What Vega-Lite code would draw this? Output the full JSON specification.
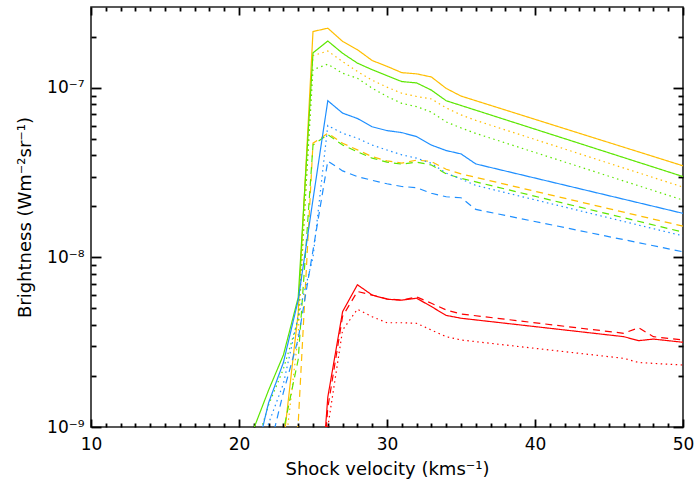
{
  "$schema": "https://vega.github.io/schema/vega-lite/v6.json",
  "width": 592,
  "height": 420,
  "autosize": {"type": "none"},
  "padding": {"left": 91, "top": 7, "right": 11, "bottom": 60},
  "config": {
    "view": {"stroke": "#222222", "strokeWidth": 1.6},
    "font": "DejaVu Sans",
    "axis": {
      "domain": false,
      "grid": false,
      "labelFont": "DejaVu Sans",
      "labelFontSize": 17,
      "labelColor": "#000000",
      "titleFont": "DejaVu Sans",
      "titleFontSize": 18,
      "titleFontWeight": "normal",
      "titleColor": "#000000",
      "labelFlush": false,
      "labelOverlap": false
    }
  },
  "data": {
    "values": [
      {"model": "A", "kind": "solid", "v": 23, "b": 8e-10},
      {"model": "A", "kind": "solid", "v": 24, "b": 4.7e-9},
      {"model": "A", "kind": "solid", "v": 25, "b": 2.15e-7},
      {"model": "A", "kind": "solid", "v": 26, "b": 2.25e-7},
      {"model": "A", "kind": "solid", "v": 27, "b": 1.88e-7},
      {"model": "A", "kind": "solid", "v": 28, "b": 1.68e-7},
      {"model": "A", "kind": "solid", "v": 29, "b": 1.45e-7},
      {"model": "A", "kind": "solid", "v": 30, "b": 1.34e-7},
      {"model": "A", "kind": "solid", "v": 31, "b": 1.23e-7},
      {"model": "A", "kind": "solid", "v": 32, "b": 1.21e-7},
      {"model": "A", "kind": "solid", "v": 33, "b": 1.16e-7},
      {"model": "A", "kind": "solid", "v": 34, "b": 9.93e-8},
      {"model": "A", "kind": "solid", "v": 35, "b": 8.95e-8},
      {"model": "A", "kind": "solid", "v": 50, "b": 3.47e-8},

      {"model": "A", "kind": "dotted", "v": 23, "b": 6e-10},
      {"model": "A", "kind": "dotted", "v": 24, "b": 3.5e-9},
      {"model": "A", "kind": "dotted", "v": 25, "b": 1.55e-7},
      {"model": "A", "kind": "dotted", "v": 26, "b": 1.65e-7},
      {"model": "A", "kind": "dotted", "v": 27, "b": 1.43e-7},
      {"model": "A", "kind": "dotted", "v": 28, "b": 1.25e-7},
      {"model": "A", "kind": "dotted", "v": 29, "b": 1.11e-7},
      {"model": "A", "kind": "dotted", "v": 30, "b": 1.01e-7},
      {"model": "A", "kind": "dotted", "v": 31, "b": 9.3e-8},
      {"model": "A", "kind": "dotted", "v": 32, "b": 8.9e-8},
      {"model": "A", "kind": "dotted", "v": 33, "b": 8.6e-8},
      {"model": "A", "kind": "dotted", "v": 34, "b": 7.62e-8},
      {"model": "A", "kind": "dotted", "v": 35, "b": 6.93e-8},
      {"model": "A", "kind": "dotted", "v": 36, "b": 6.43e-8},
      {"model": "A", "kind": "dotted", "v": 50, "b": 2.6e-8},

      {"model": "A", "kind": "dashed", "v": 23, "b": 3e-10},
      {"model": "A", "kind": "dashed", "v": 24, "b": 1.05e-9},
      {"model": "A", "kind": "dashed", "v": 25, "b": 4.72e-8},
      {"model": "A", "kind": "dashed", "v": 26, "b": 5.4e-8},
      {"model": "A", "kind": "dashed", "v": 27, "b": 4.72e-8},
      {"model": "A", "kind": "dashed", "v": 28, "b": 4.31e-8},
      {"model": "A", "kind": "dashed", "v": 29, "b": 3.93e-8},
      {"model": "A", "kind": "dashed", "v": 30, "b": 3.71e-8},
      {"model": "A", "kind": "dashed", "v": 31, "b": 3.6e-8},
      {"model": "A", "kind": "dashed", "v": 32, "b": 3.75e-8},
      {"model": "A", "kind": "dashed", "v": 33, "b": 3.68e-8},
      {"model": "A", "kind": "dashed", "v": 34, "b": 3.31e-8},
      {"model": "A", "kind": "dashed", "v": 35, "b": 3.11e-8},
      {"model": "A", "kind": "dashed", "v": 50, "b": 1.53e-8},

      {"model": "B", "kind": "solid", "v": 20, "b": 4e-10},
      {"model": "B", "kind": "solid", "v": 21, "b": 9.8e-10},
      {"model": "B", "kind": "solid", "v": 22, "b": 1.65e-9},
      {"model": "B", "kind": "solid", "v": 23, "b": 2.66e-9},
      {"model": "B", "kind": "solid", "v": 24, "b": 5.8e-9},
      {"model": "B", "kind": "solid", "v": 25, "b": 1.61e-7},
      {"model": "B", "kind": "solid", "v": 26, "b": 1.89e-7},
      {"model": "B", "kind": "solid", "v": 27, "b": 1.6e-7},
      {"model": "B", "kind": "solid", "v": 28, "b": 1.4e-7},
      {"model": "B", "kind": "solid", "v": 29, "b": 1.28e-7},
      {"model": "B", "kind": "solid", "v": 30, "b": 1.18e-7},
      {"model": "B", "kind": "solid", "v": 31, "b": 1.09e-7},
      {"model": "B", "kind": "solid", "v": 32, "b": 1.07e-7},
      {"model": "B", "kind": "solid", "v": 33, "b": 9.7e-8},
      {"model": "B", "kind": "solid", "v": 34, "b": 8.4e-8},
      {"model": "B", "kind": "solid", "v": 50, "b": 3.0e-8},

      {"model": "B", "kind": "dotted", "v": 21, "b": 7e-10},
      {"model": "B", "kind": "dotted", "v": 22, "b": 1.35e-9},
      {"model": "B", "kind": "dotted", "v": 23, "b": 2.2e-9},
      {"model": "B", "kind": "dotted", "v": 24, "b": 4.3e-9},
      {"model": "B", "kind": "dotted", "v": 25, "b": 1.28e-7},
      {"model": "B", "kind": "dotted", "v": 26, "b": 1.38e-7},
      {"model": "B", "kind": "dotted", "v": 27, "b": 1.22e-7},
      {"model": "B", "kind": "dotted", "v": 28, "b": 1.14e-7},
      {"model": "B", "kind": "dotted", "v": 29, "b": 9.96e-8},
      {"model": "B", "kind": "dotted", "v": 30, "b": 8.9e-8},
      {"model": "B", "kind": "dotted", "v": 31, "b": 8.1e-8},
      {"model": "B", "kind": "dotted", "v": 32, "b": 7.76e-8},
      {"model": "B", "kind": "dotted", "v": 33, "b": 7.2e-8},
      {"model": "B", "kind": "dotted", "v": 34, "b": 6.3e-8},
      {"model": "B", "kind": "dotted", "v": 35, "b": 5.81e-8},
      {"model": "B", "kind": "dotted", "v": 36, "b": 5.39e-8},
      {"model": "B", "kind": "dotted", "v": 50, "b": 2.18e-8},

      {"model": "B", "kind": "dashed", "v": 22, "b": 4e-10},
      {"model": "B", "kind": "dashed", "v": 23, "b": 9.5e-10},
      {"model": "B", "kind": "dashed", "v": 24, "b": 2.5e-9},
      {"model": "B", "kind": "dashed", "v": 25, "b": 4.6e-8},
      {"model": "B", "kind": "dashed", "v": 26, "b": 5.3e-8},
      {"model": "B", "kind": "dashed", "v": 27, "b": 4.6e-8},
      {"model": "B", "kind": "dashed", "v": 28, "b": 4.2e-8},
      {"model": "B", "kind": "dashed", "v": 29, "b": 3.85e-8},
      {"model": "B", "kind": "dashed", "v": 30, "b": 3.65e-8},
      {"model": "B", "kind": "dashed", "v": 31, "b": 3.55e-8},
      {"model": "B", "kind": "dashed", "v": 32, "b": 3.65e-8},
      {"model": "B", "kind": "dashed", "v": 33, "b": 3.51e-8},
      {"model": "B", "kind": "dashed", "v": 34, "b": 3.11e-8},
      {"model": "B", "kind": "dashed", "v": 35, "b": 2.93e-8},
      {"model": "B", "kind": "dashed", "v": 50, "b": 1.41e-8},

      {"model": "C", "kind": "solid", "v": 21, "b": 6e-10},
      {"model": "C", "kind": "solid", "v": 22, "b": 1.39e-9},
      {"model": "C", "kind": "solid", "v": 23, "b": 2.4e-9},
      {"model": "C", "kind": "solid", "v": 24, "b": 5.6e-9},
      {"model": "C", "kind": "solid", "v": 25, "b": 2.2e-8},
      {"model": "C", "kind": "solid", "v": 26, "b": 8.4e-8},
      {"model": "C", "kind": "solid", "v": 27, "b": 7.1e-8},
      {"model": "C", "kind": "solid", "v": 28, "b": 6.6e-8},
      {"model": "C", "kind": "solid", "v": 29, "b": 5.9e-8},
      {"model": "C", "kind": "solid", "v": 30, "b": 5.6e-8},
      {"model": "C", "kind": "solid", "v": 31, "b": 5.45e-8},
      {"model": "C", "kind": "solid", "v": 32, "b": 5.16e-8},
      {"model": "C", "kind": "solid", "v": 33, "b": 4.6e-8},
      {"model": "C", "kind": "solid", "v": 34, "b": 4.27e-8},
      {"model": "C", "kind": "solid", "v": 35, "b": 4.08e-8},
      {"model": "C", "kind": "solid", "v": 36, "b": 3.56e-8},
      {"model": "C", "kind": "solid", "v": 50, "b": 1.82e-8},

      {"model": "C", "kind": "dotted", "v": 21, "b": 5e-10},
      {"model": "C", "kind": "dotted", "v": 22, "b": 1.05e-9},
      {"model": "C", "kind": "dotted", "v": 23, "b": 1.8e-9},
      {"model": "C", "kind": "dotted", "v": 24, "b": 4.5e-9},
      {"model": "C", "kind": "dotted", "v": 25, "b": 1.0e-8},
      {"model": "C", "kind": "dotted", "v": 26, "b": 6.0e-8},
      {"model": "C", "kind": "dotted", "v": 27, "b": 5.4e-8},
      {"model": "C", "kind": "dotted", "v": 28, "b": 5.05e-8},
      {"model": "C", "kind": "dotted", "v": 29, "b": 4.6e-8},
      {"model": "C", "kind": "dotted", "v": 30, "b": 4.3e-8},
      {"model": "C", "kind": "dotted", "v": 31, "b": 4.03e-8},
      {"model": "C", "kind": "dotted", "v": 32, "b": 3.85e-8},
      {"model": "C", "kind": "dotted", "v": 33, "b": 3.59e-8},
      {"model": "C", "kind": "dotted", "v": 34, "b": 3.14e-8},
      {"model": "C", "kind": "dotted", "v": 35, "b": 2.9e-8},
      {"model": "C", "kind": "dotted", "v": 36, "b": 2.66e-8},
      {"model": "C", "kind": "dotted", "v": 50, "b": 1.34e-8},

      {"model": "C", "kind": "dashed", "v": 22, "b": 7e-10},
      {"model": "C", "kind": "dashed", "v": 23, "b": 1.6e-9},
      {"model": "C", "kind": "dashed", "v": 24, "b": 3.3e-9},
      {"model": "C", "kind": "dashed", "v": 25, "b": 1.1e-8},
      {"model": "C", "kind": "dashed", "v": 26, "b": 3.7e-8},
      {"model": "C", "kind": "dashed", "v": 27, "b": 3.24e-8},
      {"model": "C", "kind": "dashed", "v": 28, "b": 3.0e-8},
      {"model": "C", "kind": "dashed", "v": 29, "b": 2.85e-8},
      {"model": "C", "kind": "dashed", "v": 30, "b": 2.72e-8},
      {"model": "C", "kind": "dashed", "v": 31, "b": 2.62e-8},
      {"model": "C", "kind": "dashed", "v": 32, "b": 2.58e-8},
      {"model": "C", "kind": "dashed", "v": 33, "b": 2.39e-8},
      {"model": "C", "kind": "dashed", "v": 34, "b": 2.28e-8},
      {"model": "C", "kind": "dashed", "v": 35, "b": 2.25e-8},
      {"model": "C", "kind": "dashed", "v": 36, "b": 1.92e-8},
      {"model": "C", "kind": "dashed", "v": 50, "b": 1.08e-8},

      {"model": "D", "kind": "solid", "v": 25, "b": 1e-10},
      {"model": "D", "kind": "solid", "v": 26, "b": 1.5e-9},
      {"model": "D", "kind": "solid", "v": 27, "b": 4.79e-9},
      {"model": "D", "kind": "solid", "v": 28, "b": 6.9e-9},
      {"model": "D", "kind": "solid", "v": 29, "b": 6.0e-9},
      {"model": "D", "kind": "solid", "v": 30, "b": 5.67e-9},
      {"model": "D", "kind": "solid", "v": 31, "b": 5.6e-9},
      {"model": "D", "kind": "solid", "v": 32, "b": 5.75e-9},
      {"model": "D", "kind": "solid", "v": 33, "b": 5.13e-9},
      {"model": "D", "kind": "solid", "v": 34, "b": 4.55e-9},
      {"model": "D", "kind": "solid", "v": 35, "b": 4.38e-9},
      {"model": "D", "kind": "solid", "v": 46, "b": 3.41e-9},
      {"model": "D", "kind": "solid", "v": 47, "b": 3.23e-9},
      {"model": "D", "kind": "solid", "v": 48, "b": 3.3e-9},
      {"model": "D", "kind": "solid", "v": 50, "b": 3.16e-9},

      {"model": "D", "kind": "dashed", "v": 25, "b": 1e-10},
      {"model": "D", "kind": "dashed", "v": 26, "b": 1.3e-9},
      {"model": "D", "kind": "dashed", "v": 27, "b": 4.5e-9},
      {"model": "D", "kind": "dashed", "v": 28, "b": 6.3e-9},
      {"model": "D", "kind": "dashed", "v": 29, "b": 6.0e-9},
      {"model": "D", "kind": "dashed", "v": 30, "b": 5.7e-9},
      {"model": "D", "kind": "dashed", "v": 31, "b": 5.6e-9},
      {"model": "D", "kind": "dashed", "v": 32, "b": 5.85e-9},
      {"model": "D", "kind": "dashed", "v": 33, "b": 5.37e-9},
      {"model": "D", "kind": "dashed", "v": 34, "b": 4.9e-9},
      {"model": "D", "kind": "dashed", "v": 35, "b": 4.64e-9},
      {"model": "D", "kind": "dashed", "v": 46, "b": 3.57e-9},
      {"model": "D", "kind": "dashed", "v": 47, "b": 3.85e-9},
      {"model": "D", "kind": "dashed", "v": 48, "b": 3.41e-9},
      {"model": "D", "kind": "dashed", "v": 50, "b": 3.26e-9},

      {"model": "D", "kind": "dotted", "v": 25, "b": 1e-10},
      {"model": "D", "kind": "dotted", "v": 26, "b": 1.0e-9},
      {"model": "D", "kind": "dotted", "v": 27, "b": 3.73e-9},
      {"model": "D", "kind": "dotted", "v": 28, "b": 4.95e-9},
      {"model": "D", "kind": "dotted", "v": 29, "b": 4.47e-9},
      {"model": "D", "kind": "dotted", "v": 30, "b": 4.12e-9},
      {"model": "D", "kind": "dotted", "v": 31, "b": 4.12e-9},
      {"model": "D", "kind": "dotted", "v": 32, "b": 4.09e-9},
      {"model": "D", "kind": "dotted", "v": 33, "b": 3.73e-9},
      {"model": "D", "kind": "dotted", "v": 34, "b": 3.41e-9},
      {"model": "D", "kind": "dotted", "v": 35, "b": 3.26e-9},
      {"model": "D", "kind": "dotted", "v": 46, "b": 2.54e-9},
      {"model": "D", "kind": "dotted", "v": 47, "b": 2.4e-9},
      {"model": "D", "kind": "dotted", "v": 50, "b": 2.32e-9}
    ]
  },
  "layer": [
    {
      "mark": {"type": "line", "clip": true, "strokeWidth": 1.2},
      "encoding": {
        "x": {
          "field": "v", "type": "quantitative",
          "scale": {"domain": [10, 50], "nice": false, "zero": false},
          "axis": {
            "orient": "bottom",
            "title": "Shock velocity (kms⁻¹)",
            "titlePadding": 8,
            "values": [10, 20, 30, 40, 50],
            "ticks": true,
            "tickSize": 8,
            "offset": -8,
            "tickColor": "#000000",
            "tickWidth": 1.8,
            "labelPadding": 9
          }
        },
        "y": {
          "field": "b", "type": "quantitative",
          "scale": {"type": "log", "domain": [1e-9, 3e-7], "nice": false},
          "axis": {
            "orient": "left",
            "title": "Brightness (Wm⁻²sr⁻¹)",
            "titlePadding": 12,
            "values": [1e-9, 1e-8, 1e-7],
            "labelExpr": "datum.value == 1e-9 ? '10⁻⁹' : datum.value == 1e-8 ? '10⁻⁸' : '10⁻⁷'",
            "ticks": true,
            "tickSize": 10,
            "offset": -10,
            "tickColor": "#000000",
            "tickWidth": 1.8,
            "labelPadding": 7
          }
        },
        "color": {
          "field": "model", "type": "nominal",
          "scale": {"domain": ["A", "B", "C", "D"], "range": ["#FFBE00", "#5CE600", "#1E8FFF", "#FF0000"]},
          "legend": null
        },
        "strokeDash": {
          "field": "kind", "type": "nominal",
          "scale": {"domain": ["solid", "dotted", "dashed"], "range": [[1, 0], [1.5, 3.5], [7, 5]]},
          "legend": null
        }
      }
    },
    {
      "mark": {"type": "line", "opacity": 0, "clip": true},
      "encoding": {
        "x": {
          "field": "v", "type": "quantitative",
          "scale": {"domain": [10, 50], "nice": false, "zero": false},
          "axis": {"orient": "top", "title": null, "values": [10, 20, 30, 40, 50], "labels": false, "ticks": true, "tickSize": 8, "offset": -8, "tickColor": "#000000", "tickWidth": 1.8}
        },
        "y": {
          "field": "b", "type": "quantitative",
          "scale": {"type": "log", "domain": [1e-9, 3e-7], "nice": false},
          "axis": {"orient": "right", "title": null, "values": [1e-9, 1e-8, 1e-7], "labels": false, "ticks": true, "tickSize": 10, "offset": -10, "tickColor": "#000000", "tickWidth": 1.8}
        },
        "detail": {"field": "model"}
      }
    },
    {
      "mark": {"type": "line", "opacity": 0, "clip": true},
      "encoding": {
        "x": {
          "field": "v", "type": "quantitative",
          "scale": {"domain": [10, 50], "nice": false, "zero": false},
          "axis": {"orient": "bottom", "title": null, "values": [11,12,13,14,15,16,17,18,19,21,22,23,24,25,26,27,28,29,31,32,33,34,35,36,37,38,39,41,42,43,44,45,46,47,48,49], "labels": false, "ticks": true, "tickSize": 4, "offset": -4, "tickColor": "#000000", "tickWidth": 1.8}
        },
        "y": {
          "field": "b", "type": "quantitative",
          "scale": {"type": "log", "domain": [1e-9, 3e-7], "nice": false},
          "axis": {"orient": "left", "title": null, "values": [2e-9,3e-9,4e-9,5e-9,6e-9,7e-9,8e-9,9e-9,2e-8,3e-8,4e-8,5e-8,6e-8,7e-8,8e-8,9e-8,2e-7], "labels": false, "ticks": true, "tickSize": 5, "offset": -5, "tickColor": "#000000", "tickWidth": 1.8}
        },
        "detail": {"field": "model"}
      }
    },
    {
      "mark": {"type": "line", "opacity": 0, "clip": true},
      "encoding": {
        "x": {
          "field": "v", "type": "quantitative",
          "scale": {"domain": [10, 50], "nice": false, "zero": false},
          "axis": {"orient": "top", "title": null, "values": [11,12,13,14,15,16,17,18,19,21,22,23,24,25,26,27,28,29,31,32,33,34,35,36,37,38,39,41,42,43,44,45,46,47,48,49], "labels": false, "ticks": true, "tickSize": 4, "offset": -4, "tickColor": "#000000", "tickWidth": 1.8}
        },
        "y": {
          "field": "b", "type": "quantitative",
          "scale": {"type": "log", "domain": [1e-9, 3e-7], "nice": false},
          "axis": {"orient": "right", "title": null, "values": [2e-9,3e-9,4e-9,5e-9,6e-9,7e-9,8e-9,9e-9,2e-8,3e-8,4e-8,5e-8,6e-8,7e-8,8e-8,9e-8,2e-7], "labels": false, "ticks": true, "tickSize": 5, "offset": -5, "tickColor": "#000000", "tickWidth": 1.8}
        },
        "detail": {"field": "model"}
      }
    }
  ],
  "resolve": {"axis": {"x": "independent", "y": "independent"}}
}
